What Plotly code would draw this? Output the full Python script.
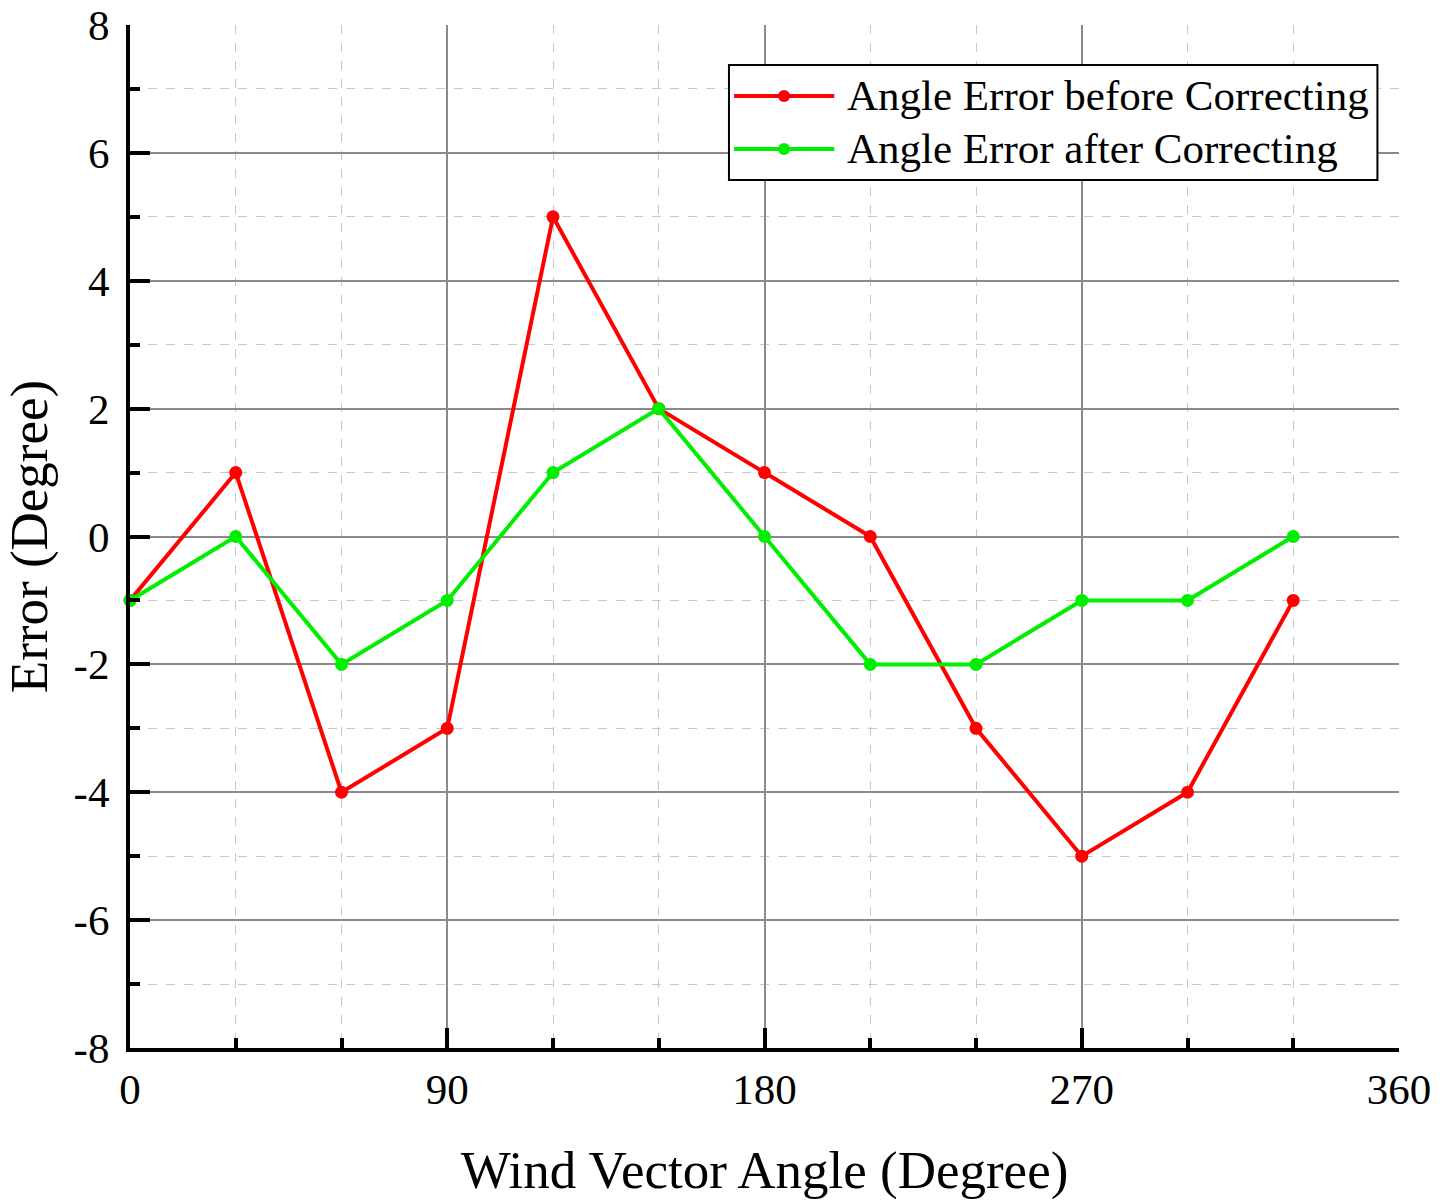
import plotly.graph_objects as go

angles = [0, 30, 60, 90, 120, 150, 180, 210, 240, 270, 300, 330]
err_before = [-1, 1, -4, -3, 5, 2, 1, 0, -3, -5, -4, -1]
err_after = [-1, 0, -2, -1, 1, 2, 0, -2, -2, -1, -1, 0]

series_names = ["Angle Error before Correcting", "Angle Error after Correcting"]
series_colors = ["#ff0000", "#00ee00"]

x_ticks = [0, 90, 180, 270, 360]
x_ticktext = ["0", "90", "180", "270", "360"]
y_ticks = [-8, -6, -4, -2, 0, 2, 4, 6, 8]
y_ticktext = ["-8", "-6", "-4", "-2", "0", "2", "4", "6", "8"]

FONT = "Liberation Serif, Times New Roman, serif"

fig = go.Figure()
for name, ys, col in zip(series_names, [err_before, err_after], series_colors):
    fig.add_trace(go.Scatter(x=angles, y=ys, mode="lines+markers", name=name,
                             line=dict(color=col, width=4),
                             marker=dict(color=col, size=13),
                             showlegend=False, cliponaxis=False))

axis_common = dict(
    showline=True, linecolor="black", linewidth=4,
    ticks="inside", ticklen=20, tickwidth=4, tickcolor="black",
    showgrid=True, gridcolor="#8a8a8a", gridwidth=1.5,
    zeroline=False, mirror=False, automargin=False,
    tickfont=dict(family=FONT, size=43, color="black"),
)

fig.update_layout(
    width=1450, height=1200,
    margin=dict(l=130, r=51, t=25, b=152),
    plot_bgcolor="white", paper_bgcolor="white",
    font=dict(family=FONT, color="black"),
    xaxis=dict(axis_common, range=[0, 360], tickvals=x_ticks, ticktext=x_ticktext,
               title=dict(text="Wind Vector Angle (Degree)", font=dict(family=FONT, size=53), standoff=40),
               minor=dict(dtick=30, tick0=0, ticks="inside", ticklen=10, tickwidth=4, tickcolor="black",
                          showgrid=True, gridcolor="#c8c8c8", griddash="dash", gridwidth=1.2)),
    yaxis=dict(axis_common, range=[-8, 8], tickvals=y_ticks, ticktext=y_ticktext,
               ticklabelstandoff=8,
               title=dict(text="Error (Degree)", font=dict(family=FONT, size=53), standoff=10),
               minor=dict(dtick=1, tick0=0, ticks="inside", ticklen=10, tickwidth=4, tickcolor="black",
                          showgrid=True, gridcolor="#c8c8c8", griddash="dash", gridwidth=1.2)),
    showlegend=False,
)

# Manual legend (paper coordinates)
box_x0, box_x1, box_y0, box_y1 = 0.472, 0.983, 0.8485, 0.961
row_y = [0.9306, 0.8788]
line_x0, line_x1, mark_x, text_x = 0.476, 0.555, 0.5154, 0.5634
fig.add_shape(type="rect", xref="paper", yref="paper", x0=box_x0, x1=box_x1, y0=box_y0, y1=box_y1,
              line=dict(color="black", width=2), fillcolor="white", layer="above")
for name, col, yy in zip(series_names, series_colors, row_y):
    fig.add_shape(type="line", xref="paper", yref="paper", x0=line_x0, x1=line_x1, y0=yy, y1=yy,
                  line=dict(color=col, width=4), layer="above")
    fig.add_shape(type="circle", xref="paper", yref="paper", xsizemode="pixel", ysizemode="pixel",
                  xanchor=mark_x, yanchor=yy, x0=-6, x1=6, y0=-6, y1=6,
                  line=dict(color=col, width=0), fillcolor=col, layer="above")
    fig.add_annotation(xref="paper", yref="paper", x=text_x, y=yy, xanchor="left", yanchor="middle",
                       text=name, showarrow=False, font=dict(family=FONT, size=43, color="black"))

fig.write_html("out.html")
